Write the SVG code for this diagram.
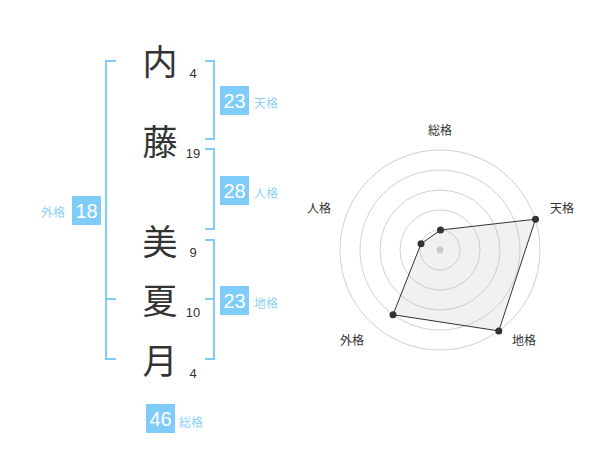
<svg xmlns="http://www.w3.org/2000/svg" width="600" height="470" viewBox="0 0 600 470">
<style>
.br{fill:none;stroke:#80ccf8;stroke-width:2}
.ch{font-family:"Noto Sans CJK JP","Noto Sans CJK SC",sans-serif;font-size:35px;fill:#333;text-anchor:middle}
.st{font-family:"Liberation Sans",Arial,sans-serif;font-size:13px;fill:#333;text-anchor:middle}
.bx{fill:#80ccf8}
.bn{font-family:"Liberation Sans",Arial,sans-serif;font-size:20px;fill:#fff;text-anchor:middle}
.lb{font-family:"Noto Sans CJK JP","Noto Sans CJK SC",sans-serif;font-size:12px;fill:#8fd0f5}
.rl{font-family:"Noto Sans CJK JP","Noto Sans CJK SC",sans-serif;font-size:12px;fill:#333;text-anchor:middle}
.ring{fill:none;stroke:#d0d0d0;stroke-width:1}
.pt{fill:#333}
</style>
<rect width="600" height="470" fill="#fff"/>
<g id="connectors">
<path class="br" d="M116,61 H106 V359 H116 M106,299 H116"/>
<path class="br" d="M205,61 H214 V139 H205"/>
<path class="br" d="M205,149 H214 V229 H205"/>
<path class="br" d="M205,240 H214 V359 H205 M205,299 H214"/>
</g>
<g id="name">
<text class="ch" x="160" y="75">内</text>
<text class="ch" x="160" y="155">藤</text>
<text class="ch" x="160" y="255">美</text>
<text class="ch" x="160" y="314">夏</text>
<text class="ch" x="160" y="374">月</text>
<text class="st" x="193" y="78">4</text>
<text class="st" x="193" y="158">19</text>
<text class="st" x="193" y="257">9</text>
<text class="st" x="193" y="317">10</text>
<text class="st" x="193" y="378">4</text>
</g>
<g id="tenkaku">
<rect class="bx" x="220" y="86" width="29" height="29"/>
<text class="bn" x="234.5" y="107.5">23</text>
<text class="lb" x="254" y="108">天格</text>
</g>
<g id="jinkaku">
<rect class="bx" x="220" y="176" width="29" height="29"/>
<text class="bn" x="234.5" y="197.5">28</text>
<text class="lb" x="254" y="198">人格</text>
</g>
<g id="chikaku">
<rect class="bx" x="220" y="286" width="29" height="29"/>
<text class="bn" x="234.5" y="307.5">23</text>
<text class="lb" x="254" y="308">地格</text>
</g>
<g id="gaikaku">
<rect class="bx" x="72" y="196" width="29" height="29"/>
<text class="bn" x="86.5" y="217.5">18</text>
<text class="lb" x="41" y="217">外格</text>
</g>
<g id="soukaku">
<rect class="bx" x="146" y="404" width="29" height="29"/>
<text class="bn" x="160.5" y="425.5">46</text>
<text class="lb" x="179" y="427">総格</text>
</g>
<g id="radar">
<circle class="ring" cx="440" cy="250" r="20"/>
<circle class="ring" cx="440" cy="250" r="40"/>
<circle class="ring" cx="440" cy="250" r="60"/>
<circle class="ring" cx="440" cy="250" r="80"/>
<circle class="ring" cx="440" cy="250" r="100"/>
<circle cx="440" cy="250" r="3.5" fill="#ccc"/>
<polygon points="440.5,230 535.5,219.2 498.8,330.9 393,314.7 421,243.8" fill="rgba(200,200,200,0.25)" stroke="#333" stroke-width="1"/>
<circle class="pt" cx="440.5" cy="230" r="3.5"/>
<circle class="pt" cx="535.5" cy="219.2" r="3.5"/>
<circle class="pt" cx="498.8" cy="330.9" r="3.5"/>
<circle class="pt" cx="393" cy="314.7" r="3.5"/>
<circle class="pt" cx="421" cy="243.8" r="3.5"/>
<text class="rl" x="440" y="135">総格</text>
<text class="rl" x="562" y="213">天格</text>
<text class="rl" x="524" y="345">地格</text>
<text class="rl" x="352" y="345">外格</text>
<text class="rl" x="319" y="213">人格</text>
</g>
</svg>
